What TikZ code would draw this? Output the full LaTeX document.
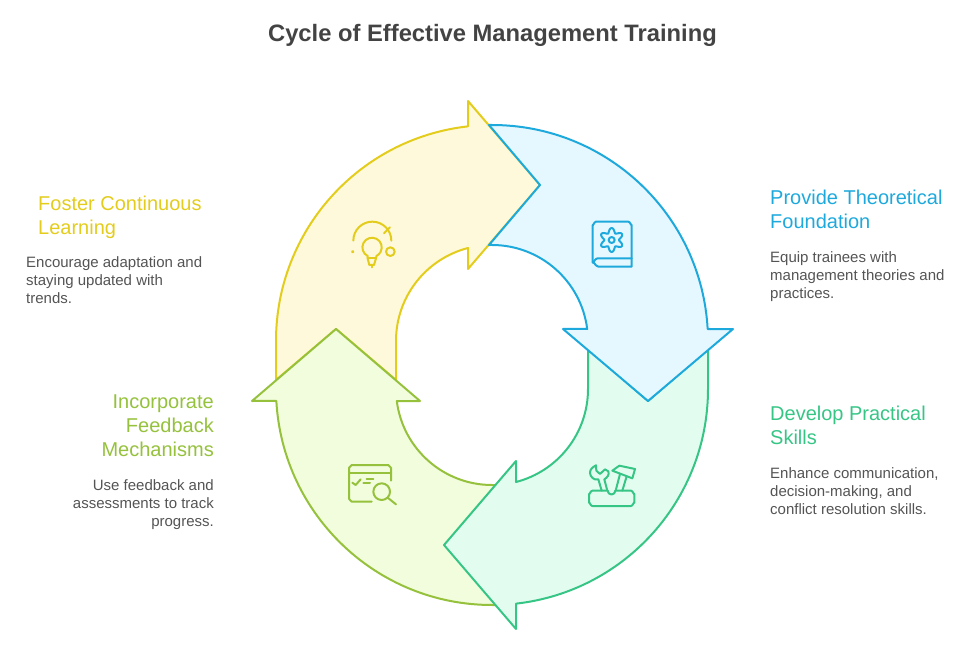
\documentclass[tikz,border=0pt]{standalone}
\usepackage{xcolor}
\usepackage{fontspec}
\setmainfont{Liberation Sans}
\usepackage{tikz}
\usetikzlibrary{positioning, calc}

\definecolor{yellowline}{HTML}{E3CC1C}
\definecolor{yellowfill}{HTML}{FEF9DB}
\definecolor{blueline}{HTML}{1EA9DC}
\definecolor{bluefill}{HTML}{E6F8FF}
\definecolor{greenline}{HTML}{37C586}
\definecolor{greenfill}{HTML}{E2FDF0}
\definecolor{limeline}{HTML}{95C13C}
\definecolor{limefill}{HTML}{F2FDDD}
\definecolor{titlegray}{HTML}{434343}
\definecolor{bodygray}{HTML}{545454}

\tikzset{
	arrowpart/.style={line width=2pt, line join=round},
	iconline/.style={line width=2pt, line cap=round, line join=round},
	headlabel/.style={inner sep=0pt, font=\fontsize{20}{24}\selectfont},
	bodylabel/.style={inner sep=0pt, text=bodygray, font=\fontsize{15}{18}\selectfont}
}

\begin{document}
\begin{tikzpicture}[x=1pt, y=-1pt]
	\useasboundingbox (0,0) rectangle (978,647);
	\node [inner sep=0pt, text=titlegray, font=\fontsize{23.75}{30}\bfseries\selectfont] (title) at (492.5,35.5) {Cycle of Effective Management Training};

	% the four arrows, lowest first
	\draw [arrowpart, draw=yellowline, fill=yellowfill] (276,380) -- (276,341) arc[start angle=180, end angle=263.62, radius=216] -- (468,101) -- (540,185) -- (468,269) -- (468,248) arc[start angle=255.52, end angle=180, radius=96] -- (396,380) -- (336,329) -- cycle;
	\draw [arrowpart, draw=limeline, fill=limefill] (336,329) -- (420,401) -- (396.8,401) arc[start angle=172.82, end angle=90, radius=96] -- (497,485) -- (470,545) -- (497,605) -- (492,605) arc[start angle=90, end angle=176.82, radius=216] -- (252,401) -- cycle;
	\draw [arrowpart, draw=greenline, fill=greenfill] (708,349) -- (708,389) arc[start angle=0, end angle=83.62, radius=216] -- (516,629) -- (444,545) -- (516,461) -- (516,482) arc[start angle=75.52, end angle=0, radius=96] -- (588,349) -- (648,401) -- cycle;
	\draw [arrowpart, draw=blueline, fill=bluefill] (540,185) -- (489,125) -- (492,125) arc[start angle=-90, end angle=-3.18, radius=216] -- (733,329) -- (648,401) -- (563,329) -- (587.2,329) arc[start angle=-7.18, end angle=-90, radius=96] -- (489,245) -- cycle;

	% bulb
	\begin{scope}[shift={(330,200)}, scale=1/3, iconline, draw=yellowline]
		\draw (70,122) arc[start angle=180, end angle=360, radius=57];
		\draw (162,100) -- (180,82);
		\draw (181,155) circle[radius=13];
		\draw [fill=yellowline] (68,155) circle[radius=2];
		\draw (113,168) arc[start angle=117, end angle=423, radius=29] -- (138,175) -- (132,195) -- (118,195) -- (113,175) -- cycle;
		\draw (113,175) -- (138,175);
		\draw (125,195) -- (125,202);
	\end{scope}

	% book
	\begin{scope}[shift={(570,205)}, scale=1/3, iconline, draw=blueline]
		\draw (185,185) -- (85,185) to[out=180, in=90] (68,172) -- (68,60) to[out=-90, in=180] (78,50) -- (175,50) to[out=0, in=-90] (185,60) -- (185,185);
		\draw (68,172) to[out=-90, in=180] (82,160) -- (185,160);
		\draw (125,105) circle[radius=9];
		\draw plot [domain=0:360, samples=73, smooth] ({125+(29-7*cos(6*\x))*cos(\x)}, {105+(29-7*cos(6*\x))*sin(\x)});
	\end{scope}

	% tools
	\begin{scope}[shift={(570,450)}, scale=1/3, iconline, draw=greenline]
		\draw (113,122) -- (67,122) to[out=180, in=-90] (57,132) -- (57,158) to[out=90, in=180] (67,168) -- (183,168) to[out=0, in=90] (193,158) -- (193,132) to[out=-90, in=0] (183,122) -- (136,122) arc[start angle=0, end angle=180, radius=11.5];
		\draw (95,122) -- (85,88) to[out=200, in=-90] (60,68) to[out=90, in=210] (78,46) -- (79,62) -- (90,72) -- (105,58) -- (115,64) to[out=-70, in=30] (103,88) -- (112,122);
		\draw (127,62) -- (148,47) -- (195,57) -- (187,85) -- cycle;
		\draw (150,72) -- (137,122);
		\draw (170,79) -- (157,122);
	\end{scope}

	% window with magnifier
	\begin{scope}[shift={(335,450)}, scale=1/3, iconline, draw=limeline]
		\draw (168,92) -- (168,53) to[out=-90, in=0] (160,45) -- (50,45) to[out=180, in=-90] (42,53) -- (42,147) to[out=90, in=180] (50,155) -- (110,155);
		\draw (42,68) -- (168,68);
		\draw (52,98) -- (62,105) -- (77,88);
		\draw (85,100) -- (105,100);
		\draw (95,88) -- (115,88);
		\draw (140,125) circle[radius=25];
		\draw (158,143) -- (183,163);
	\end{scope}

	\node [headlabel, text=yellowline, anchor=base west, align=left] (fosterhead) at (38,235) {Foster Continuous\\Learning};
	\node [bodylabel, anchor=base west, align=left] (fosterbody) at (26,304) {Encourage adaptation and\\staying updated with\\trends.};

	\node [headlabel, text=blueline, anchor=base west, align=left] (theoryhead) at (770,229) {Provide Theoretical\\Foundation};
	\node [bodylabel, anchor=base west, align=left] (theorybody) at (770,299) {Equip trainees with\\management theories and\\practices.};

	\node [headlabel, text=limeline, anchor=base east, align=right] (feedbackhead) at (214,456) {Incorporate\\Feedback\\Mechanisms};
	\node [bodylabel, anchor=base east, align=right] (feedbackbody) at (214,526) {Use feedback and\\assessments to track\\progress.};

	\node [headlabel, text=greenline, anchor=base west, align=left] (skillshead) at (770,444) {Develop Practical\\Skills};
	\node [bodylabel, anchor=base west, align=left] (skillsbody) at (770,514) {Enhance communication,\\decision-making, and\\conflict resolution skills.};
\end{tikzpicture}
\end{document}
